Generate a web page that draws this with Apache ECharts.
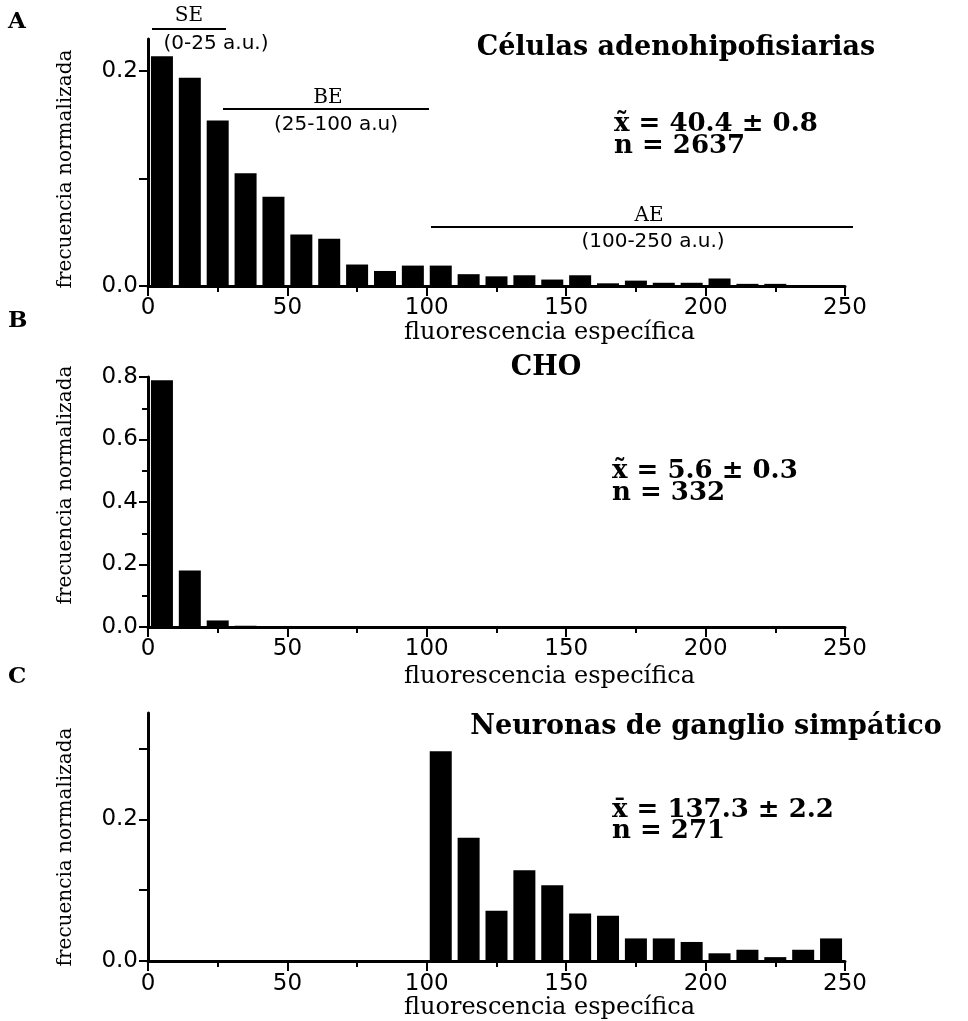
<!DOCTYPE html>
<html>
<head>
<meta charset="utf-8">
<script src="https://cdn.jsdelivr.net/npm/echarts@6/dist/echarts.min.js"></script>
<style>
  html, body { margin: 0; padding: 0; background: #fff; }
  #chart { width: 968px; height: 1021px; }
</style>
</head>
<body>
<div id="chart"></div>
<script>
// bin centres (10 a.u. bins) shared by the three histograms
var binCenters = [5, 15, 25, 35, 45, 55, 65, 75, 85, 95, 105, 115, 125,
                  135, 145, 155, 165, 175, 185, 195, 205, 215, 225, 235, 245];

// A - células adenohipofisiarias
var adenoFreq = [0.214, 0.194, 0.154, 0.105, 0.083, 0.048, 0.044, 0.020, 0.014, 0.019,
                 0.019, 0.011, 0.009, 0.010, 0.006, 0.010, 0.0025, 0.005, 0.003, 0.003,
                 0.007, 0.002, 0.002, 0, 0];
// B - CHO
var choFreq = [0.79, 0.181, 0.021, 0.004, 0.003, 0.002, 0.002, 0.001, 0, 0,
               0, 0, 0, 0, 0, 0, 0, 0, 0, 0, 0, 0, 0, 0, 0];
// C - neuronas de ganglio simpático
var neuronFreq = [0, 0, 0, 0, 0, 0, 0, 0, 0, 0,
                  0.296, 0.174, 0.071, 0.128, 0.107, 0.067, 0.064, 0.032, 0.032, 0.027,
                  0.011, 0.016, 0.0056, 0.016, 0.032];

var xMin = 0, xMax = 250, xStep = 50;
var yMaxA = 0.23, yMaxB = 0.8, yMaxC = 0.35;
var yTicksA = [0, 0.1, 0.2], yLabelsA = [0, 0.2];
var yTicksC = [0, 0.1, 0.2, 0.3], yLabelsC = [0, 0.2];

var tickFont = 'DejaVu Sans';
var serif = 'DejaVu Serif';

function pairs(arr) {
  return binCenters.map(function (c, i) { return [c, arr[i]]; });
}

function xAxisFor(idx, gap) {
  return {
    type: 'value', gridIndex: idx, min: xMin, max: xMax, interval: xStep,
    name: 'fluorescencia específica', nameLocation: 'middle', nameGap: gap,
    nameTextStyle: { fontFamily: serif, fontSize: 24, color: '#000', padding: [0, 0, 0, 106] },
    axisLine: { lineStyle: { color: '#000', width: 3 } },
    axisTick: { length: 10, lineStyle: { color: '#000', width: 2 } },
    minorTick: { show: true, splitNumber: 2, length: 6, lineStyle: { color: '#000', width: 2 } },
    axisLabel: { fontFamily: tickFont, fontSize: 23, color: '#000', margin: 11 },
    splitLine: { show: false }
  };
}

function yAxisFor(idx, max, interval, ticks, labels) {
  var ax = {
    type: 'value', gridIndex: idx, min: 0, max: max, interval: interval,
    axisLine: { show: true, lineStyle: { color: '#000', width: 3 } },
    axisTick: { show: true, length: 9, lineStyle: { color: '#000', width: 2 } },
    axisLabel: {
      fontFamily: tickFont, fontSize: 23, color: '#000', margin: 10,
      formatter: function (v) { return v.toFixed(1); }
    },
    splitLine: { show: false }
  };
  if (ticks) ax.axisTick.customValues = ticks;
  if (labels) ax.axisLabel.customValues = labels;
  if (!ticks) ax.minorTick = { show: true, splitNumber: 2, length: 6, lineStyle: { color: '#000', width: 2 } };
  return ax;
}

function bars(idx, arr) {
  return {
    type: 'bar', xAxisIndex: idx, yAxisIndex: idx, data: pairs(arr),
    barWidth: 22, itemStyle: { color: '#000' }, animation: false
  };
}

function txt(x, y, s, font, align) {
  return { type: 'text', x: x, y: y, silent: true,
    style: { text: s, font: font, fill: '#000', textAlign: align || 'left', textVerticalAlign: 'middle' } };
}
function yName(y) {
  return { type: 'text', x: 66, y: y, rotation: Math.PI / 2, silent: true,
    style: { text: 'frecuencia normalizada', font: '20px "DejaVu Serif"', fill: '#000',
             textAlign: 'center', textVerticalAlign: 'middle' } };
}
function hline(x1, x2, y) {
  return { type: 'line', silent: true, shape: { x1: x1, y1: y, x2: x2, y2: y },
    style: { stroke: '#000', lineWidth: 2 } };
}

var bold = 'bold 27px "DejaVu Serif"';
var stat = 'bold 26px "DejaVu Serif"';
var letter = 'bold 23px "DejaVu Serif"';
var small = '20px "DejaVu Sans"';
var smallSerif = '20px "DejaVu Serif"';

var chart = echarts.init(document.getElementById('chart'));
chart.setOption({
  backgroundColor: '#fff',
  animation: false,
  grid: [
    { left: 148, top: 39, width: 697, height: 247 },
    { left: 148, top: 377, width: 697, height: 250 },
    { left: 148, top: 713, width: 697, height: 251 }
  ],
  xAxis: [xAxisFor(0, 34), xAxisFor(1, 38), xAxisFor(2, 33)],
  yAxis: [
    yAxisFor(0, yMaxA, 0.1, yTicksA, yLabelsA),
    yAxisFor(1, yMaxB, 0.2, null, null),
    yAxisFor(2, yMaxC, 0.1, yTicksC, yLabelsC)
  ],
  series: [bars(0, adenoFreq), bars(1, choFreq), bars(2, neuronFreq)],
  graphic: [
    txt(8, 22, 'A', letter), txt(8, 321, 'B', letter), txt(8, 677, 'C', letter),
    yName(169), yName(485), yName(847),
    // panel A annotations
    txt(189, 16, 'SE', smallSerif, 'center'), hline(152, 226, 29),
    txt(216, 44, '(0-25 a.u.)', small, 'center'),
    txt(328, 98, 'BE', smallSerif, 'center'), hline(223, 429, 109),
    txt(336, 125, '(25-100 a.u)', small, 'center'),
    txt(649, 216, 'AE', smallSerif, 'center'), hline(431, 853, 227),
    txt(653, 242, '(100-250 a.u.)', small, 'center'),
    txt(676, 48, 'Células adenohipofisiarias', bold, 'center'),
    txt(614, 124, 'x̃ = 40.4 ± 0.8', stat), txt(614, 146, 'n = 2637', stat),
    // panel B
    txt(546, 368, 'CHO', bold, 'center'),
    txt(612, 471, 'x̃ = 5.6 ± 0.3', stat), txt(612, 493, 'n = 332', stat),
    // panel C
    txt(706, 727, 'Neuronas de ganglio simpático', bold, 'center'),
    txt(612, 810, 'x̄ = 137.3 ± 2.2', stat), txt(612, 831, 'n = 271', stat)
  ]
});
</script>
</body>
</html>
